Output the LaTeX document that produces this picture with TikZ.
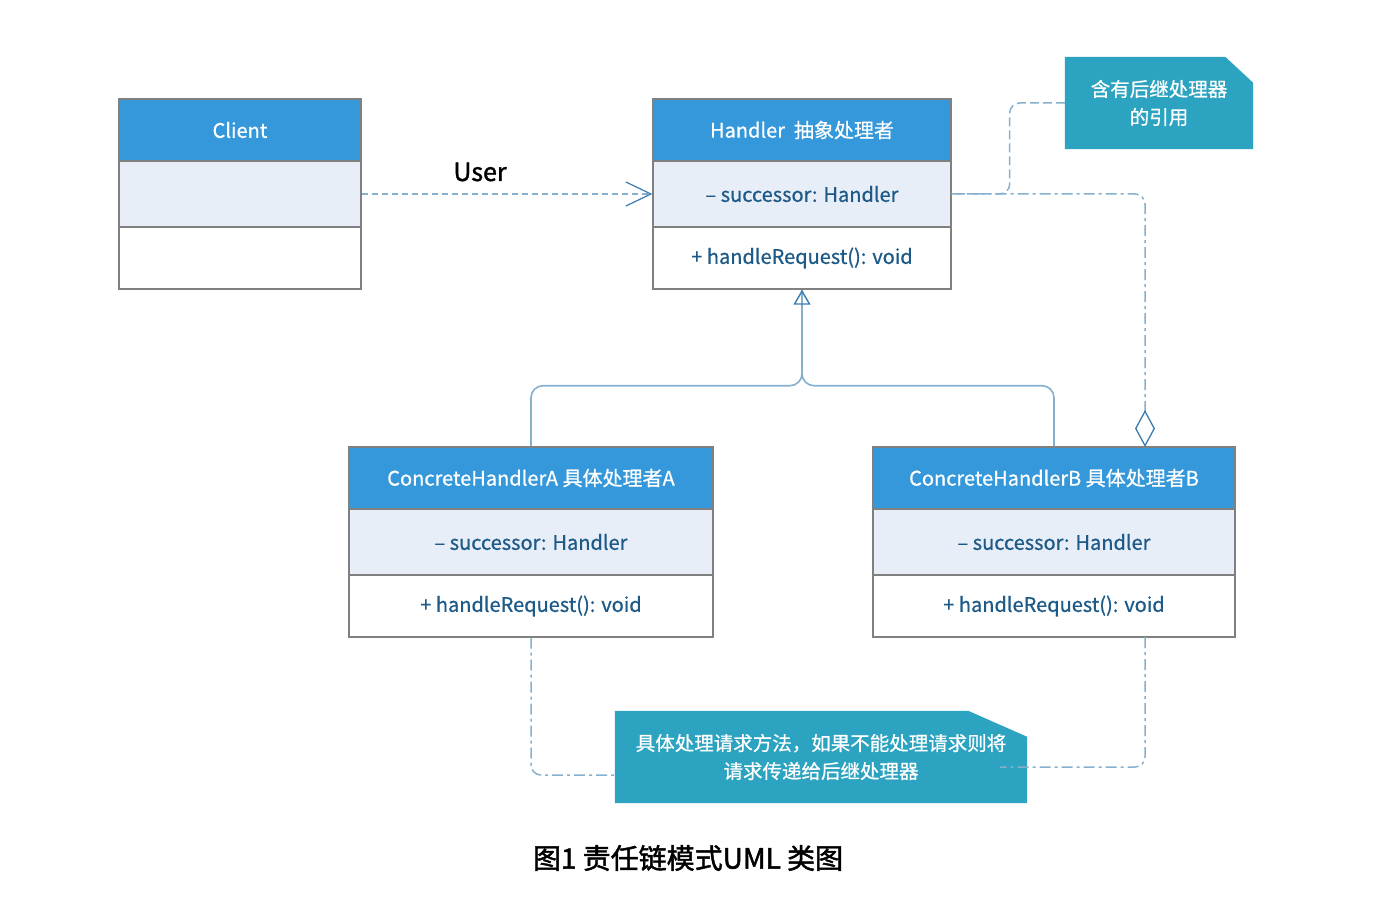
\documentclass[tikz,border=0pt]{standalone}
\usepackage{fontspec}
\setmainfont{Noto Sans CJK SC}[FakeBold=0.7]
\newfontfamily\capfont{Noto Sans CJK SC}[FakeBold=1.6]
\newfontfamily\userfont{Noto Sans CJK SC}[FakeBold=1.4]
\usetikzlibrary{arrows.meta,backgrounds,calc}
\definecolor{hdrblue}{HTML}{3598DA}
\definecolor{attrfill}{HTML}{E8EEF8}
\definecolor{boxgray}{HTML}{808080}
\definecolor{txtblue}{HTML}{1D5A87}
\definecolor{notecol}{HTML}{2CA3C0}
\definecolor{linecol}{HTML}{86B0CE}
\definecolor{tipcol}{HTML}{3A7BB0}
\tikzset{
  box/.style={rectangle, draw=boxgray, line width=1.4pt, inner sep=0pt, font=\fontsize{20}{24}\selectfont},
  hdr/.style={box, fill=hdrblue, text=white, minimum height=62pt},
  attr/.style={box, fill=attrfill, text=txtblue, minimum height=66pt},
  meth/.style={box, fill=white, text=txtblue, minimum height=62pt},
  notetext/.style={inner sep=0pt, align=center, text=white, font=\fontsize{19.5}{28}\selectfont},
  dep/.style={draw=linecol, line width=1.5pt, dash pattern=on 6pt off 4pt},
  dashdot/.style={draw=linecol, line width=1.5pt, dash pattern=on 11pt off 4pt on 3pt off 4pt},
  gen/.style={draw=linecol, line width=1.6pt},
}
\begin{document}
\begin{tikzpicture}[x=1pt,y=-1pt]
\useasboundingbox (0,0) rectangle (1384,912);
% Client
\node[hdr, minimum width=242pt] (c1) at (240,130) {Client};
\node[attr, minimum width=242pt] (c2) at (240,194) {};
\node[meth, minimum width=242pt] (c3) at (240,258) {};
% Handler
\node[hdr, minimum width=298pt] (h1) at (802,130) {Handler\ \ 抽象处理者};
\node[attr, minimum width=298pt] (h2) at (802,194) {– successor: Handler};
\node[meth, minimum width=298pt] (h3) at (802,258) {+ handleRequest(): void};
% A
\node[hdr, minimum width=364pt] (a1) at (531,478) {ConcreteHandlerA 具体处理者A};
\node[attr, minimum width=364pt] (a2) at (531,542) {– successor: Handler};
\node[meth, minimum width=364pt] (a3) at (531,606) {+ handleRequest(): void};
% B
\node[hdr, minimum width=362pt] (b1) at (1054,478) {ConcreteHandlerB 具体处理者B};
\node[attr, minimum width=362pt] (b2) at (1054,542) {– successor: Handler};
\node[meth, minimum width=362pt] (b3) at (1054,606) {+ handleRequest(): void};
% notes
\node[notetext, minimum width=188pt, minimum height=92pt] (n1) at (1159,103) {含有后继处理器\\的引用};
\node[notetext, minimum width=412pt, minimum height=92pt] (n2) at (821,757) {具体处理请求方法，如果不能处理请求则将\\请求传递给后继处理器};
\begin{pgfonlayer}{background}
\fill[notecol] (n1.north west) -- ([xshift=-28pt]n1.north east) -- ([yshift=-26pt]n1.north east) -- (n1.south east) -- (n1.south west) -- cycle;
\fill[notecol] (n2.north west) -- ([xshift=-59pt]n2.north east) -- ([yshift=-26pt]n2.north east) -- (n2.south east) -- (n2.south west) -- cycle;
\end{pgfonlayer}
% coordinates
\coordinate (bagg) at (1145,447);
\coordinate (bnote) at (1145,637);
\coordinate (n2r) at (1000,767);
\coordinate (n2l) at (615,775);
\coordinate (junc) at ($(h3.south)+(0,96)$);
% dependency
\draw[dep, -{Straight Barb[length=25pt,width=24pt,line width=1.2pt,color=tipcol]}] (c2.east) -- (h2.west);
\node[font=\fontsize{25}{28}\selectfont\userfont, text=black] (user) at (480,172) {User};
% note1 connector
\draw[draw=linecol, line width=1.5pt, dash pattern=on 9pt off 4pt, rounded corners=10pt] (n1.west) -| ($(h2.east)+(58,0)$) -- (h2.east);
% aggregation
\draw[dashdot, rounded corners=10pt, -{Diamond[open,length=37pt,width=20pt,line width=1.3pt,color=tipcol]}] (h2.east) -| (bagg);
% generalization
\draw[gen, rounded corners=12pt] (b1.north) |- (junc) -- (h3.south);
\draw[gen, rounded corners=12pt, -{Triangle[open,length=15pt,width=17pt,line width=1.4pt,color=tipcol]}] (a1.north) |- (junc) -- (h3.south);
% note2 connectors
\draw[dashdot, rounded corners=10pt] (a3.south) |- (n2l);
\draw[dashdot, rounded corners=10pt] (bnote) |- (n2r);
% caption
\node[font=\fontsize{28}{32}\selectfont\capfont, text=black] (cap) at (688,858) {图1 责任链模式UML 类图};
\end{tikzpicture}
\end{document}
